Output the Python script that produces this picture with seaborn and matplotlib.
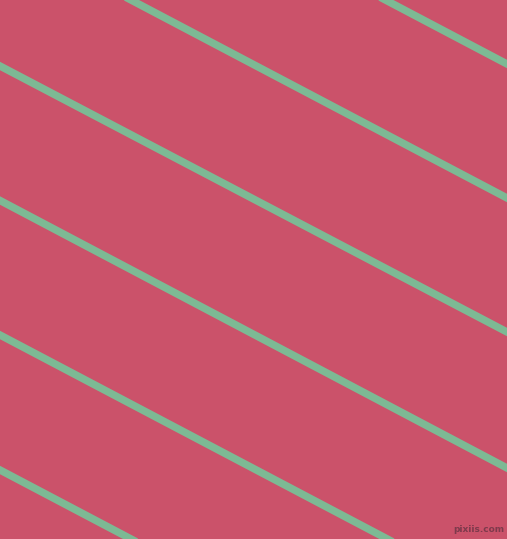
import matplotlib
matplotlib.use("Agg")
import matplotlib.pyplot as plt
import seaborn as sns
import pandas as pd

# 화면 크기 (픽셀)
W, H = 507, 539

BG_COLOR   = "#CB526A"
LINE_COLOR = "#7DB994"

# 각 선의 양 끝점: 왼쪽 가장자리(x=0)와 오른쪽 가장자리(x=507)에서의 y값
line_ids = ["l1", "l2", "l3", "l4", "l5", "l6"]
x_left   = [0, 0, 0, 0, 0, 0]
x_right  = [507, 507, 507, 507, 507, 507]
y_left   = [-203, -69, 66, 200.5, 335, 470]
y_right  = [64, 198, 332, 468, 602, 737]

rows = []
for lid, xa, xb, ya, yb in zip(line_ids, x_left, x_right, y_left, y_right):
    rows.append({"line": lid, "x": xa, "y": ya})
    rows.append({"line": lid, "x": xb, "y": yb})
df = pd.DataFrame(rows)

sns.set_style("white")
fig = plt.figure(figsize=(W / 100, H / 100), dpi=100)
fig.patch.set_facecolor(BG_COLOR)
ax = fig.add_axes([0, 0, 1, 1])
ax.set_facecolor(BG_COLOR)

sns.lineplot(data=df, x="x", y="y", units="line", estimator=None,
             color=LINE_COLOR, ax=ax, legend=False)
for ln in ax.get_lines():
    ln.set_linewidth(5.4)
    ln.set_solid_capstyle("projecting")

ax.set_xlim(0, W)
ax.set_ylim(H, 0)
ax.axis("off")

ax.text(504, 534, "pixiis.com", ha="right", va="bottom", fontsize=6.5,
        color="#7E3A4C", fontweight="bold", family="DejaVu Sans")

plt.savefig("out.png", dpi=100, facecolor=BG_COLOR)
plt.close()
